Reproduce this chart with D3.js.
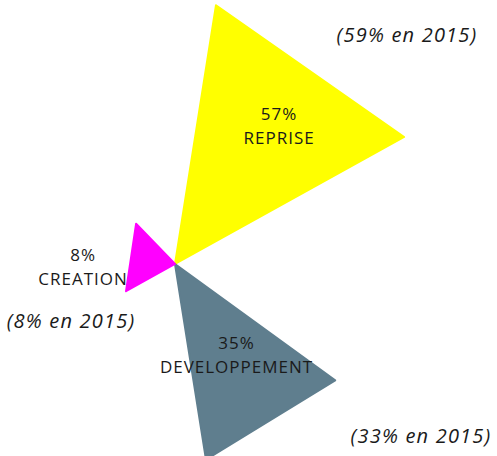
<!DOCTYPE html>
<html>
<head>
<meta charset="utf-8">
<script src="https://cdn.jsdelivr.net/npm/d3@7"></script>
<style>
  body { margin: 0; background: #fff; }
  text { font-family: "Open Sans", "Liberation Sans", sans-serif; fill: #1a1a1a; }
</style>
</head>
<body>
<div id="chart"></div>
<script>
// share of projects, 2016 vs 2015
const categories = ["REPRISE", "DEVELOPPEMENT", "CREATION"];
const values = [57, 35, 8];
const values2015 = [59, 33, 8];
const colors = ["#ffff00", "#5f7e8e", "#ff00ff"];

const width = 497, height = 456;
const cx = 175, cy = 264; // centre of the "pie"

const svg = d3.select("#chart")
    .append("svg")
    .attr("width", width)
    .attr("height", height);

const deg = Math.PI / 180;

// each slice is a triangle: start / end angle (degrees, clockwise from north)
const angle = d3.scaleOrdinal()
    .domain(categories)
    .range([[9, 61], [126, 171], [241, 316]]);

// radius grows with the value
const radius = d3.scaleLinear()
    .domain([8, 35, 57])
    .range([56, 198, 262]);

const color = d3.scaleOrdinal().domain(categories).range(colors);

const data = categories.map((c, i) => ({ cat: c, value: values[i], v2015: values2015[i] }));

const tri = d3.lineRadial()
    .angle(d => d[0] * deg)
    .radius(d => d[1])
    .curve(d3.curveLinearClosed);

const g = svg.append("g").attr("transform", `translate(${cx},${cy})`);

g.selectAll("path")
  .data(data)
  .join("path")
    .attr("d", d => {
      const [a0, a1] = angle(d.cat);
      const r = radius(d.value);
      return tri([[0, 0], [a0, r], [a1, r]]);
    })
    .attr("fill", d => color(d.cat))
    .attr("stroke", d => color(d.cat))
    .attr("stroke-width", 2)
    .attr("stroke-linejoin", "round");

// value labels: angle + distance from centre
const labelPos = d3.scaleOrdinal()
    .domain(categories)
    .range([[37, 173], [146, 110], [268, 92]]);

const labels = g.selectAll("g.lbl")
  .data(data)
  .join("g")
    .attr("class", "lbl")
    .attr("transform", d => {
      const [a, r] = labelPos(d.cat);
      const p = d3.pointRadial(a * deg, r);
      return `translate(${p[0]},${p[1]})`;
    });

labels.append("text")
    .attr("text-anchor", "middle")
    .attr("y", -6)
    .style("font-size", "17px")
    .style("letter-spacing", "1px")
    .text(d => d.value + "%");

labels.append("text")
    .attr("text-anchor", "middle")
    .attr("y", 18)
    .style("font-size", "17px")
    .style("letter-spacing", "1px")
    .text(d => d.cat);

// 2015 reminders
const notePos = d3.scaleOrdinal()
    .domain(categories)
    .range([[407, 42], [421, 443], [71, 328]]);

svg.selectAll("text.note")
  .data(data)
  .join("text")
    .attr("class", "note")
    .attr("text-anchor", "middle")
    .attr("x", d => notePos(d.cat)[0])
    .attr("y", d => notePos(d.cat)[1])
    .style("font-size", "20px")
    .style("letter-spacing", "1.2px")
    .style("font-style", "italic")
    .text(d => `(${d.v2015}% en 2015)`);
</script>
</body>
</html>
